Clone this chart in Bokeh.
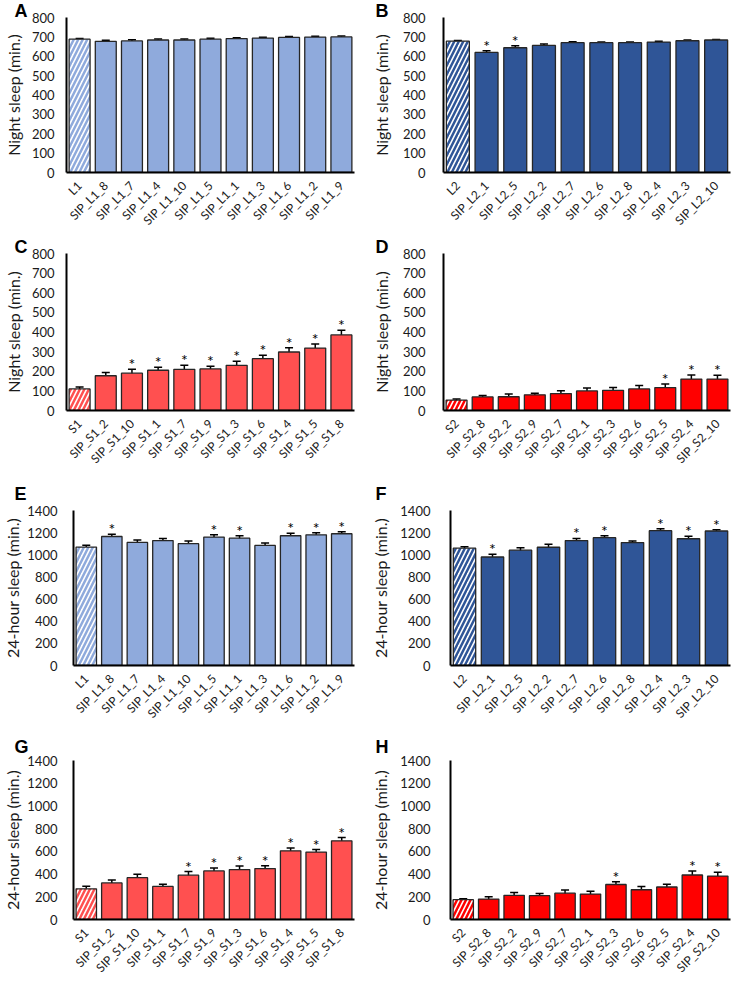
import numpy as np
from bokeh.plotting import figure
from bokeh.models import ColumnDataSource, FactorRange, Range1d, FixedTicker, Whisker, TeeHead
from bokeh.layouts import column, row
from bokeh.embed import file_html
from bokeh.resources import INLINE
from bokeh.core.properties import value

# ---------------- data ----------------
L1_cats = ["L1", "SIP_L1_8", "SIP_L1_7", "SIP_L1_4", "SIP_L1_10", "SIP_L1_5",
           "SIP_L1_1", "SIP_L1_3", "SIP_L1_6", "SIP_L1_2", "SIP_L1_9"]
L2_cats = ["L2", "SIP_L2_1", "SIP_L2_5", "SIP_L2_2", "SIP_L2_7", "SIP_L2_6",
           "SIP_L2_8", "SIP_L2_4", "SIP_L2_3", "SIP_L2_10"]
S1_cats = ["S1", "SIP_S1_2", "SIP_S1_10", "SIP_S1_1", "SIP_S1_7", "SIP_S1_9",
           "SIP_S1_3", "SIP_S1_6", "SIP_S1_4", "SIP_S1_5", "SIP_S1_8"]
S2_cats = ["S2", "SIP_S2_8", "SIP_S2_2", "SIP_S2_9", "SIP_S2_7", "SIP_S2_1",
           "SIP_S2_3", "SIP_S2_6", "SIP_S2_5", "SIP_S2_4", "SIP_S2_10"]

# Night sleep (min.)
A_vals = [688, 677, 679, 684, 684, 688, 691, 694, 697, 699, 700]
A_err = [4, 6, 6, 5, 5, 5, 5, 4, 5, 4, 4]
A_sig = [0, 0, 0, 0, 0, 0, 0, 0, 0, 0, 0]

B_vals = [678, 620, 644, 656, 670, 670, 670, 673, 680, 684]
B_err = [3, 8, 10, 7, 5, 4, 4, 5, 4, 3]
B_sig = [0, 1, 1, 0, 0, 0, 0, 0, 0, 0]

C_vals = [110, 177, 190, 205, 210, 212, 230, 264, 298, 318, 385]
C_err = [10, 17, 20, 15, 21, 14, 21, 18, 22, 21, 24]
C_sig = [0, 0, 1, 1, 1, 1, 1, 1, 1, 1, 1]

D_vals = [53, 69, 70, 80, 86, 100, 103, 110, 117, 160, 160]
D_err = [5, 8, 14, 8, 15, 15, 14, 18, 18, 21, 19]
D_sig = [0, 0, 0, 0, 0, 0, 0, 0, 1, 1, 1]

# 24-hour sleep (min.)
E_vals = [1070, 1165, 1112, 1128, 1100, 1160, 1150, 1085, 1172, 1180, 1190]
E_err = [16, 20, 22, 18, 24, 20, 22, 22, 22, 18, 18]
E_sig = [0, 1, 0, 0, 0, 1, 1, 0, 1, 1, 1]

F_vals = [1060, 980, 1042, 1068, 1128, 1155, 1110, 1218, 1145, 1215]
F_err = [12, 25, 22, 28, 20, 18, 15, 18, 22, 12]
F_sig = [0, 1, 0, 0, 1, 1, 0, 1, 1, 1]

G_vals = [270, 322, 368, 291, 390, 428, 440, 448, 605, 594, 693]
G_err = [22, 26, 30, 20, 32, 26, 32, 26, 25, 22, 28]
G_sig = [0, 0, 0, 0, 1, 1, 1, 1, 1, 1, 1]

H_vals = [175, 180, 213, 210, 232, 224, 308, 262, 286, 392, 382]
H_err = [8, 20, 25, 20, 28, 25, 25, 28, 25, 35, 35]
H_sig = [0, 0, 0, 0, 0, 0, 1, 0, 0, 1, 1]

night_ticks = [0, 100, 200, 300, 400, 500, 600, 700, 800]
day_ticks = [0, 200, 400, 600, 800, 1000, 1200, 1400]

C_L1 = "#8FAADC"
C_L2 = "#2F5597"
C_S1 = "#FF5050"
C_S2 = "#FF0000"

FONT = "Lato"
TXT = "#1a1a1a"


def panel(letter, cats, vals, errs, sigs, color, ytitle, ticks,
          W, H, left, top, bottom, right, tick_so, title_so, letter_so):
    p = figure(x_range=FactorRange(factors=cats, range_padding=0),
               y_range=Range1d(0, ticks[-1]), width=W, height=H,
               output_backend="svg", toolbar_location=None,
               min_border_left=left, min_border_top=top,
               min_border_bottom=bottom, min_border_right=right)
    p.background_fill_color = "white"
    p.border_fill_color = "white"
    p.outline_line_color = None
    p.xgrid.visible = False
    p.ygrid.visible = False

    # panel letter as title
    p.title.text = letter
    p.title.align = "left"
    p.title.offset = -left + 1
    p.title.standoff = letter_so
    p.title.text_font = "Liberation Sans"
    p.title.text_font_style = "bold"
    p.title.text_font_size = "18px"
    p.title.text_color = "black"

    ctrl = ColumnDataSource(dict(x=cats[:1], top=vals[:1]))
    rest = ColumnDataSource(dict(x=cats[1:], top=vals[1:]))
    p.vbar(x="x", top="top", width=0.8, source=rest, fill_color=color,
           line_color="#262626", line_width=1.3)
    p.vbar(x="x", top="top", width=0.8, source=ctrl, fill_color="white",
           hatch_pattern="/", hatch_color=color, hatch_scale=9, hatch_weight=2.5,
           line_color="#262626", line_width=1.3)

    lower = [v - e for v, e in zip(vals, errs)]
    upper = [v + e for v, e in zip(vals, errs)]
    wsrc = ColumnDataSource(dict(x=cats, lower=lower, upper=upper))
    w = Whisker(base="x", lower="lower", upper="upper", source=wsrc,
                line_color="black", line_width=1.5,
                upper_head=TeeHead(size=8, line_color="black", line_width=1.5),
                lower_head=TeeHead(size=8, line_color="black", line_width=1.5))
    p.add_layout(w)

    sx = [c for c, s in zip(cats, sigs) if s]
    sy = [u for u, s in zip(upper, sigs) if s]
    if sx:
        ssrc = ColumnDataSource(dict(x=sx, y=sy, t=["*"] * len(sx)))
        p.text(x="x", y="y", text="t", source=ssrc, text_font=value(FONT),
               text_font_size="16px", text_align="center",
               text_baseline="bottom", y_offset=4, text_color="black")

    for ax in (p.xaxis[0], p.yaxis[0]):
        ax.axis_line_color = "black"
        ax.axis_line_width = 2
        ax.major_tick_line_color = None
        ax.minor_tick_line_color = None
        ax.major_label_text_font = FONT
        ax.major_label_text_color = TXT
    p.xaxis.major_label_orientation = np.pi / 4
    p.xaxis.major_label_text_font_size = "12px"
    p.xaxis.major_label_standoff = 5
    p.yaxis.ticker = FixedTicker(ticks=ticks)
    p.yaxis.major_label_text_font_size = "13px"
    p.yaxis.major_label_standoff = tick_so
    p.yaxis.axis_label = ytitle
    p.yaxis.axis_label_text_font = FONT
    p.yaxis.axis_label_text_font_size = "16px"
    p.yaxis.axis_label_text_font_style = "normal"
    p.yaxis.axis_label_text_color = TXT
    p.yaxis.axis_label_standoff = title_so
    return p


NS = "Night sleep (min.)"
DS = "24-hour sleep (min.)"
W1, W2 = 368, 364
FR = 161  # frame height

h1 = 17 + FR + 58
h2 = 17 + FR + 60
h3 = 36 + FR + 58
h4 = 31 + FR + 62

pA = panel("A", L1_cats, A_vals, A_err, A_sig, C_L1, NS, night_ticks, W1, h1, 53, 17, 58, 14, 6, 6, -6)
pB = panel("B", L2_cats, B_vals, B_err, B_sig, C_L2, NS, night_ticks, W2, h1, 69, 17, 58, 2, 12, 9, -6)
pC = panel("C", S1_cats, C_vals, C_err, C_sig, C_S1, NS, night_ticks, W1, h2, 53, 17, 60, 14, 6, 6, -6)
pD = panel("D", S2_cats, D_vals, D_err, D_sig, C_S2, NS, night_ticks, W2, h2, 69, 17, 60, 2, 12, 9, -6)
pE = panel("E", L1_cats, E_vals, E_err, E_sig, C_L1, DS, day_ticks, W1, h3, 60, 36, 58, 14, 10, 2, 13)
pF = panel("F", L2_cats, F_vals, F_err, F_sig, C_L2, DS, day_ticks, W2, h3, 76, 36, 58, 2, 14, 7, 13)
pG = panel("G", S1_cats, G_vals, G_err, G_sig, C_S1, DS, day_ticks, W1, h4, 60, 31, 62, 14, 10, 2, 8)
pH = panel("H", S2_cats, H_vals, H_err, H_sig, C_S2, DS, day_ticks, W2, h4, 76, 31, 62, 2, 14, 7, 8)

layout = column(row(pA, pB), row(pC, pD), row(pE, pF), row(pG, pH))

open("out.html", "w").write(file_html(layout, INLINE))
